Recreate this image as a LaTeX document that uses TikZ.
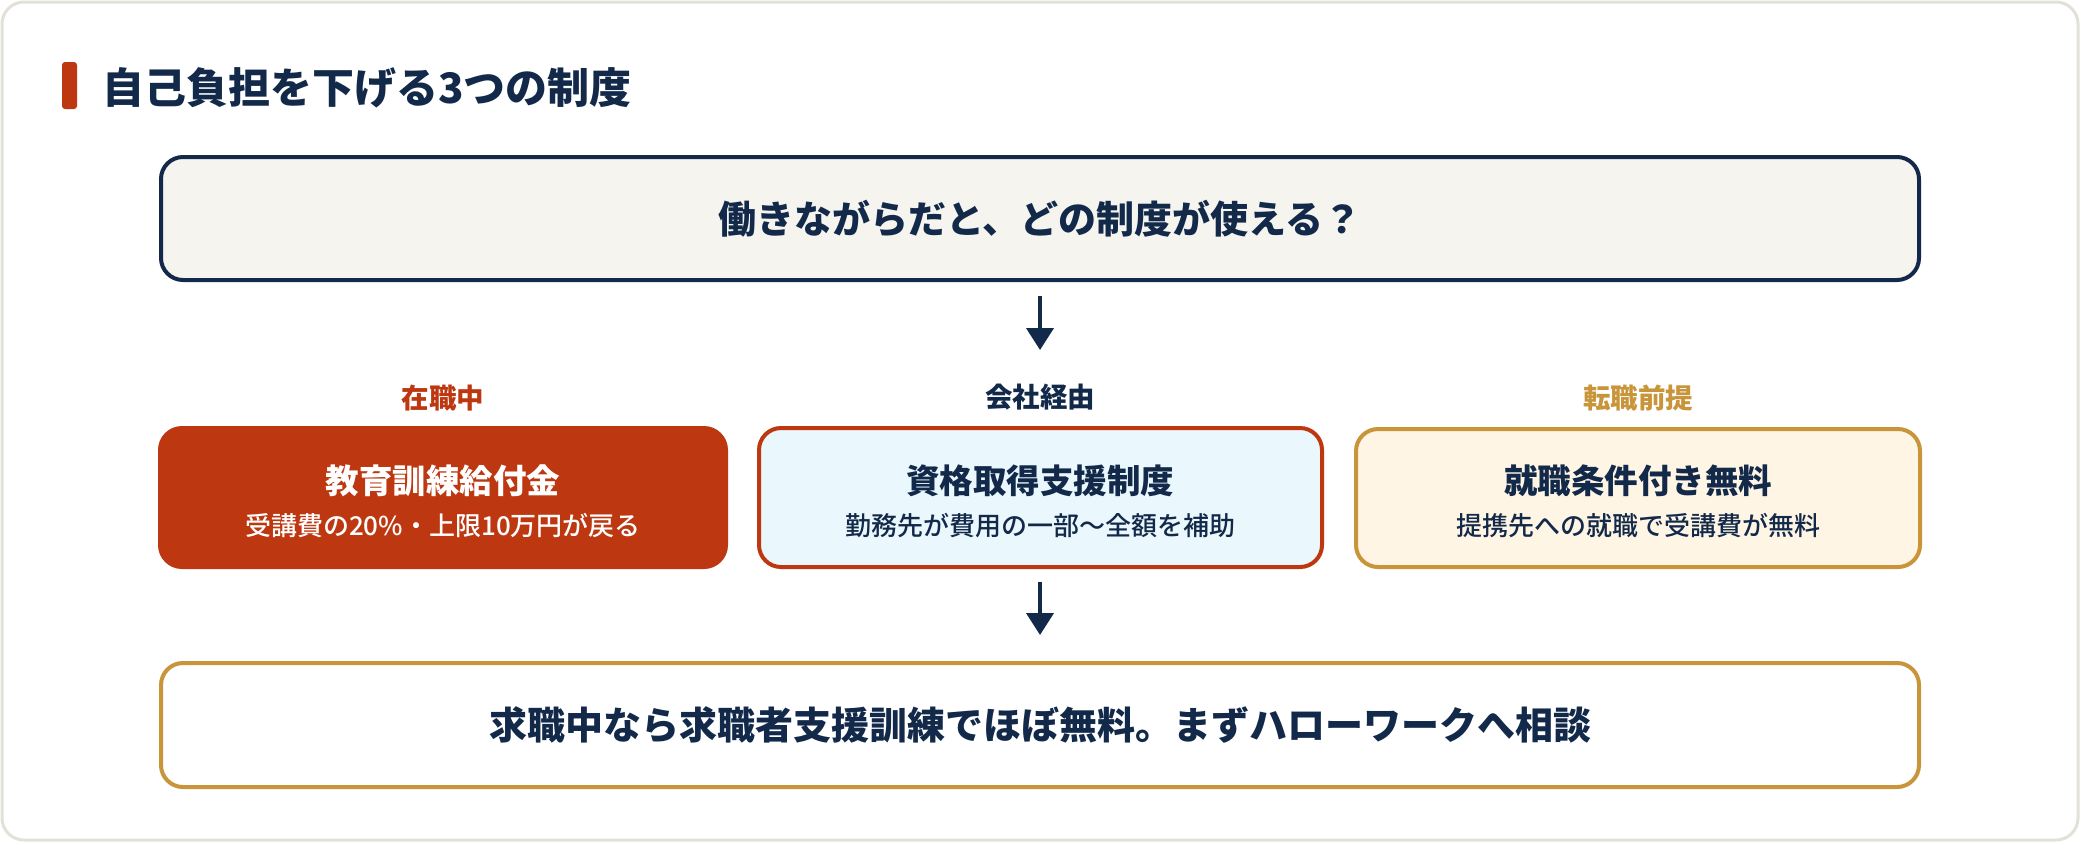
\documentclass[tikz,border=0pt]{standalone}
\usepackage{fontspec}
\setmainfont{Noto Sans CJK JP}
\newfontfamily\medfont{Noto Sans CJK JP Medium}
\usetikzlibrary{arrows.meta}
\definecolor{navy}{HTML}{13294A}
\definecolor{brick}{HTML}{BD3810}
\definecolor{gold}{HTML}{C8953A}
\definecolor{frame}{HTML}{E3E1D7}
\definecolor{topfill}{HTML}{F5F4EF}
\definecolor{bluefill}{HTML}{EAF8FD}
\definecolor{creamfill}{HTML}{FFF5E5}
\tikzset{
  box/.style={draw, line width=2pt, rounded corners=11pt, inner sep=0pt},
  bigtext/.style={font=\fontsize{19}{23}\selectfont\bfseries, text=navy},
  boxtitle/.style={font=\fontsize{16.75}{20}\selectfont\bfseries},
  boxsub/.style={font=\medfont\fontsize{13}{16}\selectfont},
  tag/.style={font=\fontsize{13.75}{17}\selectfont\bfseries},
  arr/.style={draw=navy, line width=2pt, -{Triangle[width=13.5pt,length=11pt]}}
}
\begin{document}
\begin{tikzpicture}[x=0.5pt,y=-0.5pt]
\useasboundingbox (0,0) rectangle (2080,842);
\fill[white] (0,0) rectangle (2080,842);
\draw[frame, line width=1.5pt, fill=white, rounded corners=11pt] (2,2) rectangle (2078,840);
% title
\fill[brick, rounded corners=1.5pt] (62,62) rectangle (77,109);
\node[anchor=west, inner sep=0pt, font=\fontsize{21}{25}\selectfont\bfseries, text=navy] (title) at (102,88) {自己負担を下げる3つの制度};
% top box
\node[box, draw=navy, fill=topfill, minimum width=879pt, minimum height=61.5pt] (top) at (1040,218.5) {};
\node[bigtext] (toptext) at (top.center) {働きながらだと、どの制度が使える？};
% labels
\node[tag, text=brick] (lab1) at (443,398) {在職中};
\node[tag, text=navy] (lab2) at (1040,397) {会社経由};
\node[tag, text=gold] (lab3) at (1638,398) {転職前提};
% three boxes
\node[box, draw=brick, fill=brick, minimum width=283pt, minimum height=69.5pt] (b1) at (443,497.5) {};
\node[box, draw=brick, fill=bluefill, minimum width=281.5pt, minimum height=69.5pt] (b2) at (1040.5,497.5) {};
\node[box, draw=gold, fill=creamfill, minimum width=282pt, minimum height=69pt] (b3) at (1638,498) {};
\node[boxtitle, text=white] (t1) at (443,481) {教育訓練給付金};
\node[boxsub, text=white] (s1) at (443,526) {受講費の20\%・上限10万円が戻る};
\node[boxtitle, text=navy] (t2) at (1040,481) {資格取得支援制度};
\node[boxsub, text=navy] (s2) at (1040,526) {勤務先が費用の一部〜全額を補助};
\node[boxtitle, text=navy] (t3) at (1638,481) {就職条件付き無料};
\node[boxsub, text=navy] (s3) at (1638,526) {提携先への就職で受講費が無料};
% bottom box
\node[box, draw=gold, fill=white, minimum width=879pt, minimum height=62pt] (bot) at (1040,725) {};
\node[bigtext] (bottext) at (bot.center) {求職中なら求職者支援訓練でほぼ無料。まずハローワークへ相談};
% arrows
\draw[arr, shorten <=7pt, shorten >=38pt] (top.south) -- (b2.north -| top.south);
\draw[arr, shorten <=6.5pt, shorten >=13pt] (b2.south -| bot.north) -- (bot.north);
\end{tikzpicture}
\end{document}
